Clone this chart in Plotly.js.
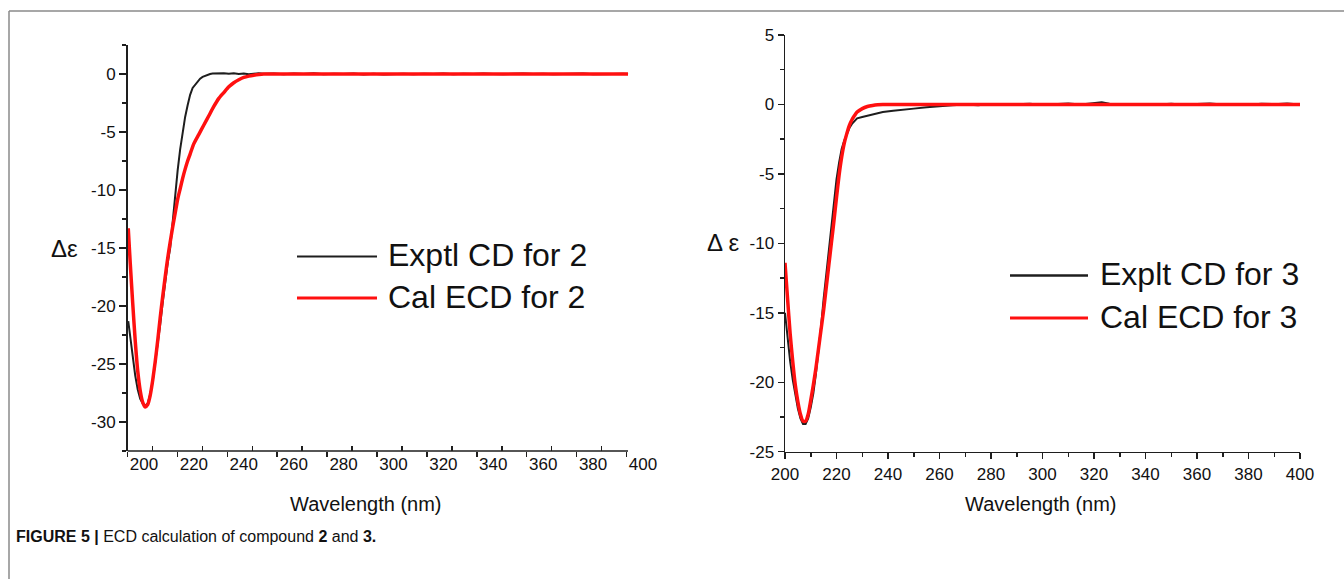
<!DOCTYPE html>
<html>
<head>
<meta charset="utf-8">
<script src="https://cdn.plot.ly/plotly-3.0.1.min.js"></script>
<style>html,body{margin:0;padding:0;background:#fff;}#chart{width:1344px;height:579px;}</style>
</head>
<body>
<div id="chart"></div>
<script>
// ---------- Data: compound 2 ----------
const wl2Exp = [193.7,194.5,195.5,196.5,197.5,198.5,199.5,200.5,201.5,202.5,203.5,204.5,205.5,206.5,207.5,208.5,209.5,210.5,211.5,212.5,213.5,214.5,215.5,216.5,217.5,218.5,219.5,220.5,221.5,222.5,223.5,224.5,225.5,226.5,227.5,228.5,230,232,234,236,238,240,242,244,246,248,252,256,260,264,268,272,276,280,284,288,292,296,300,304,308,312,316,320,324,328,332,336,340,344,348,352,356,360,364,368,372,376,380,384,388,392,394];
const cd2Exp = [-21.3,-22.8,-24.3,-26.0,-27.2,-28.0,-28.4,-28.6,-28.4,-27.6,-26.5,-25.0,-23.3,-21.6,-19.7,-17.8,-16.3,-15.0,-12.6,-10.5,-8.3,-6.5,-5.0,-3.7,-2.7,-1.8,-1.2,-0.9,-0.6,-0.4,-0.25,-0.15,-0.05,0.0,0.04,0.06,0.03,0.07,0.02,0.06,0.0,0.04,-0.02,0.05,0.07,0.02,0.05,-0.03,0.04,0.0,0.06,-0.02,0.03,0.0,0.05,-0.04,0.02,-0.05,-0.02,0.03,-0.03,0.02,0.0,0.04,-0.02,0.03,0.0,0.05,0.0,-0.03,0.02,0.05,0.0,0.03,-0.02,0.02,0.0,0.04,-0.02,0.02,0.0,0.03,0.0];
const wl2Cal = [193.7,194.5,195.5,196.5,197.5,198.5,199.5,200.5,201.5,202.5,203.5,204.5,205.5,206.5,207.5,208.5,209.5,210.5,211.5,212.5,213.5,214.5,215.5,216.5,217.5,218.5,220,222,224,226,228,230,232,234,236,238,240,242,244,246,248,260,300,350,394];
const cd2Cal = [-13.3,-16.3,-19.8,-23.0,-25.6,-27.3,-28.3,-28.7,-28.5,-27.7,-26.4,-24.8,-23.0,-21.0,-19.2,-17.5,-15.9,-14.5,-13.2,-12.0,-10.8,-9.9,-9.0,-8.2,-7.5,-6.9,-6.0,-5.2,-4.4,-3.6,-2.8,-2.1,-1.6,-1.1,-0.75,-0.5,-0.3,-0.18,-0.1,-0.04,0.0,0.0,0.0,0.0,0.0];

// ---------- Data: compound 3 ----------
const wl3Exp = [200,201,202,203,204,205,206,207,208,209,210,211,212,213,214,215,216,217,218,219,220,221,222,223,224,225,226,227,228,230,232,235,238,242,246,250,255,260,265,270,275,280,285,290,295,300,305,310,315,320,323,326,330,335,340,345,350,355,360,365,370,375,380,385,390,395,400];
const cd3Exp = [-15.0,-17.0,-18.5,-19.8,-21.0,-21.9,-22.6,-23.0,-23.0,-22.6,-21.8,-20.8,-19.4,-17.8,-16.0,-14.0,-12.2,-10.4,-8.5,-6.8,-5.4,-4.2,-3.2,-2.6,-2.1,-1.7,-1.4,-1.2,-1.0,-0.9,-0.8,-0.65,-0.55,-0.45,-0.35,-0.3,-0.2,-0.1,-0.05,0.0,-0.05,0.03,-0.04,0.02,0.05,-0.03,0.02,0.06,0.0,0.08,0.15,0.05,0.02,-0.03,0.04,0.0,0.05,-0.02,0.03,0.06,0.0,0.04,-0.02,0.05,0.02,0.07,0.0];
const wl3Cal = [200,201,202,203,204,205,206,207,208,209,210,211,212,213,214,215,216,217,218,219,220,221,222,223,224,225,226,227,228,230,232,234,236,238,260,300,350,400];
const cd3Cal = [-11.4,-14.0,-16.5,-18.5,-20.2,-21.4,-22.3,-22.8,-22.8,-22.3,-21.3,-20.2,-19.0,-17.6,-16.2,-14.8,-13.2,-11.6,-10.0,-8.4,-6.7,-5.1,-3.8,-2.8,-2.1,-1.5,-1.1,-0.8,-0.55,-0.3,-0.15,-0.07,-0.02,0.0,0.0,0.0,0.0,0.0];

// ---------- Tick labels ----------
const xTickVals = [200,220,240,260,280,300,320,340,360,380,400];
const xTickText = ["200","220","240","260","280","300","320","340","360","380","400"];
const y2TickVals = [0,-5,-10,-15,-20,-25,-30];
const y2TickText = ["0","-5","-10","-15","-20","-25","-30"];
const y3TickVals = [5,0,-5,-10,-15,-20,-25];
const y3TickText = ["5","0","-5","-10","-15","-20","-25"];

// ---------- Text ----------
const legend2 = ["Exptl CD for 2", "Cal ECD for 2"];
const legend3 = ["Explt CD for 3", "Cal ECD for 3"];
const yLabel2 = "Δε";
const yLabel3 = "Δ ε";
const xLabel = "Wavelength (nm)";
const caption = "<b>FIGURE 5 |</b> ECD calculation of compound <b>2</b> and <b>3.</b>";
const left2Range = [193.4, 400];
const left2LineEnd = 394;
const left2TicksDown = [193.4,213.4,233.4,253.4,273.4,293.4,313.4,333.4,353.4,373.4,393.4];
const left2TicksUp = [203.4,223.4,243.4,263.4,283.4,303.4,323.4,343.4,363.4,383.4];

// ---------- Layout helpers (pixel -> paper) ----------
const W = 1344, H = 579;
const px = x => x / W;
const py = y => 1 - y / H;

const FONT = "Liberation Sans, Arial, Helvetica, sans-serif";
const BLACK = "#1e1e1e";
const RED = "#ff1010";

const traces = [
  {x: wl2Exp, y: cd2Exp, xaxis: "x", yaxis: "y", type: "scatter", mode: "lines",
   line: {color: BLACK, width: 2}, name: legend2[0], showlegend: false},
  {x: wl2Cal, y: cd2Cal, xaxis: "x", yaxis: "y", type: "scatter", mode: "lines",
   line: {color: RED, width: 3.5, shape: "spline", smoothing: 0.6}, name: legend2[1], showlegend: false},
  {x: wl3Exp, y: cd3Exp, xaxis: "x2", yaxis: "y2", type: "scatter", mode: "lines",
   line: {color: BLACK, width: 2}, name: legend3[0], showlegend: false},
  {x: wl3Cal, y: cd3Cal, xaxis: "x2", yaxis: "y2", type: "scatter", mode: "lines",
   line: {color: RED, width: 3.5, shape: "spline", smoothing: 0.6}, name: legend3[1], showlegend: false},
  {x: [], y: [], xaxis: "x3", yaxis: "y", type: "scatter", mode: "lines", showlegend: false, hoverinfo: "skip"}
];

const tickFont = {family: FONT, size: 17, color: "#111"};
const ax = {showgrid: false, zeroline: false, showline: true, linecolor: BLACK, linewidth: 1.5,
  tickcolor: BLACK, tickwidth: 1.5, tickfont: tickFont, fixedrange: true};

const y2Dom = [py(451), py(45)];
const y3Dom = [py(451.7), py(35)];

const layout = {
  width: W, height: H,
  margin: {l: 0, r: 0, t: 0, b: 0},
  paper_bgcolor: "#fff", plot_bgcolor: "rgba(0,0,0,0)",
  showlegend: false,
  xaxis: Object.assign({}, ax, {
    domain: [px(127.5), px(643)], anchor: "y", range: left2Range,
    showline: false, tickmode: "array", tickvals: xTickVals, ticktext: xTickText, ticks: "",
    ticklabelstandoff: 1,
    minor: {ticks: "outside", tickmode: "array", tickvals: left2TicksDown, ticklen: 5, tickwidth: 1.5, tickcolor: BLACK}
  }),
  xaxis3: {overlaying: "x", anchor: "y", range: left2Range, showgrid: false, zeroline: false,
    showline: false, showticklabels: false, tickmode: "array", tickvals: left2TicksUp,
    ticks: "inside", ticklen: 5, tickwidth: 1.5, tickcolor: BLACK, fixedrange: true},
  yaxis: Object.assign({}, ax, {
    domain: y2Dom, anchor: "x", range: [-32.5, 2.5],
    tickmode: "array", tickvals: y2TickVals, ticktext: y2TickText, ticks: "outside", ticklen: 7,
    minor: {ticks: "outside", dtick: 2.5, tick0: 2.5, ticklen: 4, tickwidth: 1.5, tickcolor: BLACK}
  }),
  xaxis2: Object.assign({}, ax, {
    domain: [px(785), px(1300)], anchor: "y2", range: [200, 400],
    tickmode: "array", tickvals: xTickVals, ticktext: xTickText, ticks: "outside", ticklen: 6,
    minor: {ticks: "outside", dtick: 10, tick0: 200, ticklen: 4, tickwidth: 1.5, tickcolor: BLACK}
  }),
  yaxis2: Object.assign({}, ax, {
    domain: y3Dom, anchor: "x2", range: [-25, 5],
    tickmode: "array", tickvals: y3TickVals, ticktext: y3TickText, ticks: "outside", ticklen: 6,
    minor: {ticks: "outside", dtick: 2.5, tick0: 2.5, ticklen: 4, tickwidth: 1.5, tickcolor: BLACK}
  }),
  shapes: [
    // figure frame (top and left)
    {type: "line", xref: "paper", yref: "paper", x0: px(9), x1: 1, y0: py(11), y1: py(11), line: {color: "#8a8a8a", width: 1.5}},
    {type: "line", xref: "paper", yref: "paper", x0: px(9), x1: px(9), y0: py(11), y1: 0, line: {color: "#8a8a8a", width: 1.5}},
    // left x-axis line
    {type: "line", xref: "x", yref: "paper", x0: left2Range[0], x1: left2LineEnd, y0: y2Dom[0], y1: y2Dom[0], line: {color: BLACK, width: 1.5}},
    // legend line samples
    {type: "line", xref: "paper", yref: "paper", x0: px(297), x1: px(377), y0: py(256.5), y1: py(256.5), line: {color: BLACK, width: 2}},
    {type: "line", xref: "paper", yref: "paper", x0: px(297), x1: px(377), y0: py(298), y1: py(298), line: {color: RED, width: 3}},
    {type: "line", xref: "paper", yref: "paper", x0: px(1010), x1: px(1088), y0: py(275.5), y1: py(275.5), line: {color: BLACK, width: 2.5}},
    {type: "line", xref: "paper", yref: "paper", x0: px(1010), x1: px(1088), y0: py(318), y1: py(318), line: {color: RED, width: 3}}
  ],
  annotations: [
    {xref: "paper", yref: "paper", x: px(386), y: py(255), xanchor: "left", yanchor: "middle", showarrow: false,
     text: legend2[0], font: {family: FONT, size: 32, color: "#111"}},
    {xref: "paper", yref: "paper", x: px(386), y: py(297), xanchor: "left", yanchor: "middle", showarrow: false,
     text: legend2[1], font: {family: FONT, size: 32, color: "#111"}},
    {xref: "paper", yref: "paper", x: px(1098), y: py(274), xanchor: "left", yanchor: "middle", showarrow: false,
     text: legend3[0], font: {family: FONT, size: 32, color: "#111"}},
    {xref: "paper", yref: "paper", x: px(1098), y: py(317), xanchor: "left", yanchor: "middle", showarrow: false,
     text: legend3[1], font: {family: FONT, size: 32, color: "#111"}},
    {xref: "paper", yref: "paper", x: px(64), y: py(249), xanchor: "center", yanchor: "middle", showarrow: false,
     text: yLabel2, font: {family: FONT, size: 24, color: "#111"}},
    {xref: "paper", yref: "paper", x: px(723), y: py(243), xanchor: "center", yanchor: "middle", showarrow: false,
     text: yLabel3, font: {family: FONT, size: 24, color: "#111"}},
    {xref: "paper", yref: "paper", x: px(366), y: py(504), xanchor: "center", yanchor: "middle", showarrow: false,
     text: xLabel, font: {family: FONT, size: 20, color: "#111"}},
    {xref: "paper", yref: "paper", x: px(1041), y: py(504), xanchor: "center", yanchor: "middle", showarrow: false,
     text: xLabel, font: {family: FONT, size: 20, color: "#111"}},
    {xref: "paper", yref: "paper", x: px(14), y: py(536), xanchor: "left", yanchor: "middle", showarrow: false,
     text: caption, font: {family: "Liberation Sans Narrow, Liberation Sans, Arial, sans-serif", size: 16, color: "#111"}}
  ]
};

Plotly.newPlot("chart", traces, layout, {staticPlot: true, displayModeBar: false});
</script>
</body>
</html>
